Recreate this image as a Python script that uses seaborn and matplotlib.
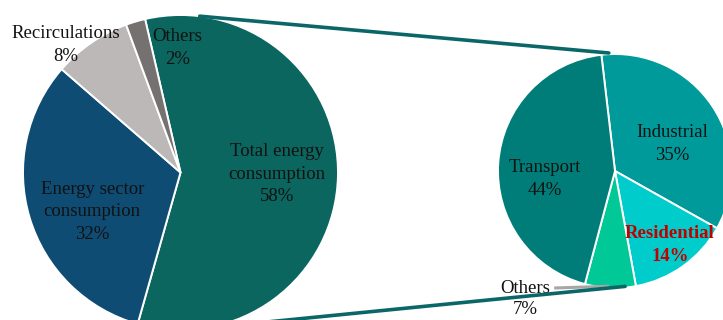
import matplotlib
matplotlib.use("Agg")
import matplotlib.pyplot as plt
from matplotlib.patches import ConnectionPatch
import numpy as np
import seaborn as sns

# Energy balance split (left) and breakdown of total energy consumption (right)
main_labels = ["Total energy\nconsumption", "Energy sector\nconsumption", "Recirculations", "Others"]
main_values = [58, 32, 8, 2]
main_colors = ["#0a665f", "#0f4c74", "#bdb8b8", "#767171"]

sub_labels = ["Industrial", "Residential", "Others", "Transport"]
sub_values = [35, 14, 7, 44]
sub_colors = ["#009a9a", "#00cccc", "#00c896", "#007d78"]

sns.set_theme(style="white")
plt.rcParams["font.family"] = ["Liberation Serif", "DejaVu Serif"]

W, H = 723, 320
fig = plt.figure(figsize=(W / 100, H / 100), dpi=100)
fig.patch.set_facecolor("white")

PAD = 1.05


def pie_axes(cx, cy_top, r):
    """Axes whose unit circle sits at pixel centre (cx, cy_top) with radius r."""
    cy = H - cy_top
    half = r * PAD
    ax = fig.add_axes([(cx - half) / W, (cy - half) / H, 2 * half / W, 2 * half / H])
    return ax


ax1 = pie_axes(180.5, 172.5, 157.5)
ax2 = pie_axes(615, 171, 117)

wedge_kw = dict(edgecolor="white", linewidth=1.4)
w1, _ = ax1.pie(main_values, colors=main_colors, startangle=103, counterclock=False,
                radius=1, wedgeprops=wedge_kw, frame=True)
w2, _ = ax2.pie(sub_values, colors=sub_colors, startangle=96.7, counterclock=False,
                radius=1, wedgeprops=wedge_kw, frame=True)
for w in list(w1) + list(w2):
    w.set_clip_on(False)
for ax in (ax1, ax2):
    ax.set_xlim(-PAD, PAD)
    ax.set_ylim(-PAD, PAD)
    ax.set_aspect("equal")
    ax.axis("off")

fs = 13.5
ls = 1.45
txt = dict(ha="center", va="center", fontsize=fs, color="#111111",
           linespacing=ls, clip_on=False)

# Left pie labels (axes data units, radius = 1)
ax1.text(0.61, -0.01, f"{main_labels[0]}\n{main_values[0]}%", **txt)
ax1.text(-0.56, -0.25, f"{main_labels[1]}\n{main_values[1]}%", **txt)
ax1.text(-0.73, 0.81, f"{main_labels[2]}\n{main_values[2]}%", **txt)
ax1.text(-0.02, 0.79, f"{main_labels[3]}\n{main_values[3]}%", **txt)

# Right pie labels
ax2.text(0.49, 0.23, f"{sub_labels[0]}\n{sub_values[0]}%", **txt)
ax2.text(0.47, -0.63, f"{sub_labels[1]}\n{sub_values[1]}%",
         ha="center", va="center", fontsize=fs, color="#c00000",
         fontweight="bold", linespacing=ls, clip_on=False)
ax2.text(-0.60, -0.07, f"{sub_labels[3]}\n{sub_values[3]}%", **txt)
ax2.text(-0.77, -1.095, f"{sub_labels[2]}\n{sub_values[2]}%",
         ha="center", va="center", fontsize=fs, color="#111111",
         linespacing=1.35, clip_on=False)

# Leader line for the small "Others" slice
ax2.plot([-0.52, -0.05], [-1.0, -0.985], color="#a6a6a6", lw=2.2,
         solid_capstyle="butt", clip_on=False)


def on_circle(deg, r=1.0):
    a = np.deg2rad(deg)
    return (r * np.cos(a), r * np.sin(a))


# Connectors linking the consumption slice to its breakdown
line_kw = dict(color="#0b6767", lw=2.6, zorder=5)
top = ConnectionPatch(xyA=on_circle(83, 1.0), coordsA=ax1.transData,
                      xyB=on_circle(93, 1.01), coordsB=ax2.transData, **line_kw)
bot = ConnectionPatch(xyA=on_circle(-87, 1.0), coordsA=ax1.transData,
                      xyB=on_circle(-85, 0.99), coordsB=ax2.transData, **line_kw)
fig.add_artist(top)
fig.add_artist(bot)

fig.savefig("out.png", dpi=100, facecolor="white")
